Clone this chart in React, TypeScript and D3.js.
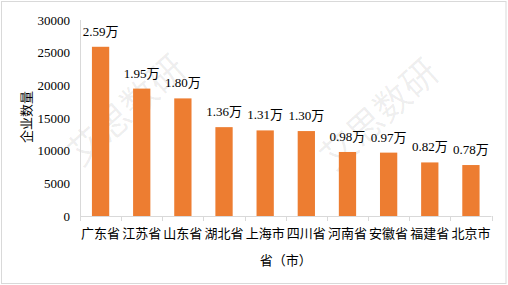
import React from "react";
import * as d3 from "d3";

const categories = ["广东省", "江苏省", "山东省", "湖北省", "上海市", "四川省", "河南省", "安徽省", "福建省", "北京市"];
const values = [25900, 19500, 18000, 13600, 13100, 13000, 9800, 9700, 8200, 7800];
const valueLabels = ["2.59万", "1.95万", "1.80万", "1.36万", "1.31万", "1.30万", "0.98万", "0.97万", "0.82万", "0.78万"];
const yTicks = [0, 5000, 10000, 15000, 20000, 25000, 30000];
const yTitle = "企业数量";
const xTitle = "省（市）";
const watermark = "艾思数研";

const W = 508;
const H = 285;
const left = 80;
const right = 491.5;
const top = 20;
const bottom = 216;

export default function App() {
  const x = d3.scaleBand<string>().domain(categories).range([left, right]).paddingInner(0.58).paddingOuter(0.29);
  const xb = d3.scaleBand<string>().domain(categories).range([left, right]);
  const y = d3.scaleLinear().domain([0, 30000]).range([bottom, top]);
  const serif = "'Liberation Serif', 'Times New Roman', 'Noto Sans CJK SC', serif";
  const cjk = "'Noto Sans CJK SC', sans-serif";
  const axisColor = "#d9d9d9";
  const boundaries = [...categories.map((c) => xb(c)!), right];
  return (
    <svg width={W} height={H} style={{ position: "absolute", left: 0, top: 0 }} xmlns="http://www.w3.org/2000/svg">
      <rect x={0} y={0} width={W} height={H} fill="#fff" />
      <rect x={1.5} y={1.5} width={504.5} height={282} fill="none" stroke={axisColor} strokeWidth={1} />
      {[ [124, 108], [377, 112] ].map(([cx, cy], i) => (
        <text key={i} x={cx} y={cy} transform={`rotate(-42 ${cx} ${cy})`} textAnchor="middle" dominantBaseline="central"
          fontFamily={cjk} fontSize={36} fill="#000" fillOpacity={0.07}>{watermark}</text>
      ))}
      <line x1={left + 0.5} x2={left + 0.5} y1={top} y2={bottom} stroke={axisColor} />
      {yTicks.map((t) => (
        <text key={t} x={70} y={y(t)} textAnchor="end" dominantBaseline="central" fontFamily={serif} fontSize={13} fill="#000">{t}</text>
      ))}
      {categories.map((c, i) => (
        <rect key={c} x={x(c)} y={y(values[i])} width={x.bandwidth()} height={bottom - y(values[i])} fill="#ED7D31" />
      ))}
      <line x1={left} x2={right} y1={bottom + 0.5} y2={bottom + 0.5} stroke={axisColor} />
      {boundaries.map((b, i) => (
        <line key={i} x1={Math.round(b) + 0.5} x2={Math.round(b) + 0.5} y1={bottom} y2={bottom + 5} stroke={axisColor} />
      ))}
      {categories.map((c, i) => (
        <text key={c} x={x(c)! + x.bandwidth() / 2} y={y(values[i]) - 11} textAnchor="middle" fontFamily={serif} fontSize={13} fill="#000">{valueLabels[i]}</text>
      ))}
      {categories.map((c) => (
        <text key={c} x={xb(c)! + xb.bandwidth() / 2} y={238} textAnchor="middle" fontFamily={cjk} fontSize={13} fill="#000">{c}</text>
      ))}
      <text x={(left + right) / 2} y={265} textAnchor="middle" fontFamily={cjk} fontSize={13} fill="#000">{xTitle}</text>
      <text x={25} y={117} transform="rotate(-90 25 117)" textAnchor="middle" dominantBaseline="central" fontFamily={cjk} fontSize={13} fill="#000">{yTitle}</text>
    </svg>
  );
}
